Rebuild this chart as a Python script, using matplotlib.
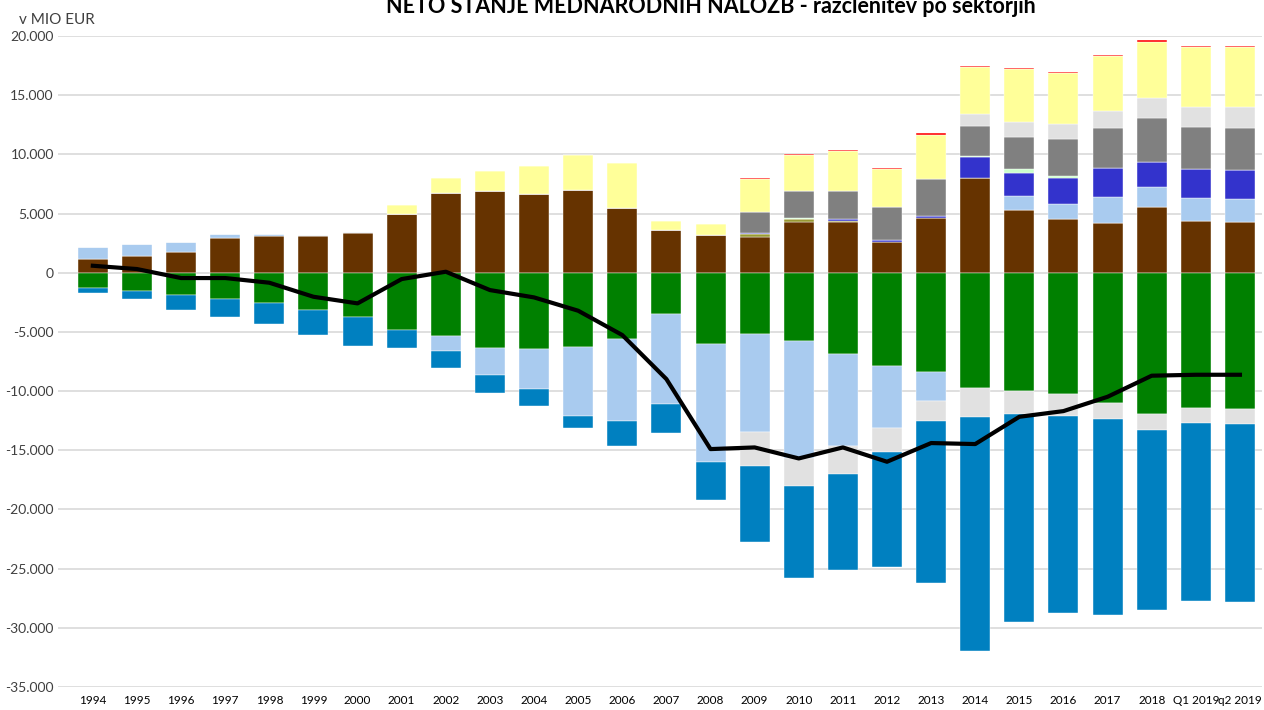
import matplotlib.pyplot as plt
from matplotlib.ticker import FuncFormatter

categories = ["1994", "1995", "1996", "1997", "1998", "1999", "2000", "2001", "2002",
              "2003", "2004", "2005", "2006", "2007", "2008", "2009", "2010", "2011",
              "2012", "2013", "2014", "2015", "2016", "2017", "2018", "Q1 2019", "q2 2019"]

brown = [1200, 1380, 1770, 2900, 3070, 3090, 3320, 4940, 6760, 6870, 6620, 6955, 5470, 3630,
         3150, 2985, 4250, 4250, 2590, 4650, 8000, 5270, 4535, 4170, 5580, 4340, 4250]
green = [-1290, -1520, -1860, -2220, -2560, -3150, -3720, -4815, -5350, -6365, -6480, -6250,
         -5635, -3520, -6000, -5180, -5745, -6870, -7860, -8365, -9745, -10000, -10280,
         -11015, -11945, -11410, -11490]
olive = [0, 0, 0, 0, 0, 0, 0, 0, 0, 0, 0, 0, 0, 0, 0, 280, 255, 140, 0, 0, 0, 0, 0, 0, 0, 0, 0]
light_blue = [940, 1045, 850, 370, 200, 80, 115, 0, -1240, -2255, -3380, -5860, -6895, -7550,
              -10000, -8310, -9940, -7750, -5265, -2505, 0, 1210, 1295, 2225, 1660, 1970, 1945]
light_gray_neg = [0, 0, 0, 0, 0, 0, 0, 0, 0, 0, 0, 0, 0, 0, 0, -2850, -2310, -2365, -2000,
                  -1665, -2425, -1970, -1805, -1325, -1380, -1295, -1325]
dark_blue = [0, 0, 0, 0, 0, 0, 0, 0, 0, 0, 0, 0, 0, 0, 0, 115, 0, 170, 170, 110, 1745, 1970,
             2140, 2425, 2140, 2420, 2450]
light_green = [0, 0, 0, 0, 0, 0, 0, 0, 0, 0, 0, 0, 0, 0, 0, 0, 115, 0, 0, 0, 110, 280, 195,
               0, 0, 0, 0]
gray = [0, 0, 0, 0, 0, 0, 0, 0, 0, 0, 0, 0, 0, 0, 0, 1720, 2255, 2310, 2815, 3125, 2565,
        2760, 3155, 3435, 3690, 3605, 3580]
light_gray_pos = [0, 0, 0, 0, 0, 0, 0, 0, 0, 0, 0, 0, 0, 0, 0, 0, 0, 0, 0, 0, 960, 1215,
                  1210, 1380, 1660, 1665, 1775]
yellow = [0, 0, 0, 0, 0, 0, 0, 810, 1240, 1750, 2400, 2950, 3780, 760, 930, 2815, 3070, 3405,
          3155, 3770, 3970, 4480, 4335, 4645, 4790, 5040, 5040]
red = [0, 0, 0, 0, 0, 0, 0, 0, 0, 0, 0, 0, 0, 0, 0, 115, 110, 110, 140, 170, 140, 110, 115,
       115, 170, 115, 115]
blue = [-460, -680, -1270, -1555, -1775, -2115, -2475, -1550, -1460, -1540, -1440, -1050,
        -2070, -2450, -3180, -6390, -7800, -8140, -9745, -13715, -19825, -17520, -16675,
        -16590, -15160, -15015, -15015]

net = [590, 310, -450, -450, -845, -2030, -2590, -535, 85, -1465, -2085, -3210, -5265, -8985,
       -14900, -14760, -15690, -14760, -15970, -14390, -14475, -12170, -11690, -10480, -8700,
       -8620, -8620]

series = [
    (brown, "#663300"),
    (green, "#008000"),
    (olive, "#999933"),
    (light_blue, "#A9CBEF"),
    (light_gray_neg, "#E1E1E1"),
    (dark_blue, "#3333CC"),
    (light_green, "#CCFFCC"),
    (gray, "#808080"),
    (light_gray_pos, "#E1E1E1"),
    (yellow, "#FFFF99"),
    (red, "#FF0000"),
    (blue, "#0080C0"),
]

plt.rcParams["font.family"] = ["Lato", "DejaVu Sans"]

fig = plt.figure(figsize=(12.64, 7.10), dpi=100)
ax = fig.add_axes([58 / 1264, 1 - 687 / 710, (1262 - 58) / 1264, (687 - 36) / 710])

x = list(range(len(categories)))
pos_base = [0.0] * len(categories)
neg_base = [0.0] * len(categories)
for values, color in series:
    # positives stack up from zero, negatives stack down, like Excel does
    bottoms = []
    for i, v in enumerate(values):
        if v >= 0:
            bottoms.append(pos_base[i])
            pos_base[i] += v
        else:
            bottoms.append(neg_base[i])
            neg_base[i] += v
    ax.bar(x, values, bottom=bottoms, width=0.68, color=color,
           edgecolor="white", linewidth=0.3, zorder=2)

ax.plot(x, net, color="black", linewidth=3, zorder=3)

ax.set_ylim(-35000, 20000)
ax.set_xlim(-0.79, 26.5)
ax.set_yticks(range(-35000, 20001, 5000))
ax.yaxis.set_major_formatter(
    FuncFormatter(lambda v, _: f"{int(v):,}".replace(",", ".")))
ax.set_xticks(x)
ax.set_xticklabels(categories, fontsize=8.5)
ax.tick_params(axis="y", length=0, labelsize=10, pad=3, colors="#404040")
ax.tick_params(axis="x", length=0, pad=6)
ax.grid(axis="y", color="#D9D9D9", linewidth=1.2, zorder=0)
ax.set_axisbelow(True)
for spine in ax.spines.values():
    spine.set_visible(False)

fig.text(19 / 1264, 1 - 24 / 710, "v MIO EUR", fontsize=11, color="#404040",
         va="baseline", ha="left")
fig.text(711 / 1264, 1 - 13 / 710,
         "NETO STANJE MEDNARODNIH NALOŽB - razčlenitev po sektorjih",
         fontsize=15.5, fontweight="bold", ha="center", va="baseline")

fig.savefig("out.png", dpi=100)
